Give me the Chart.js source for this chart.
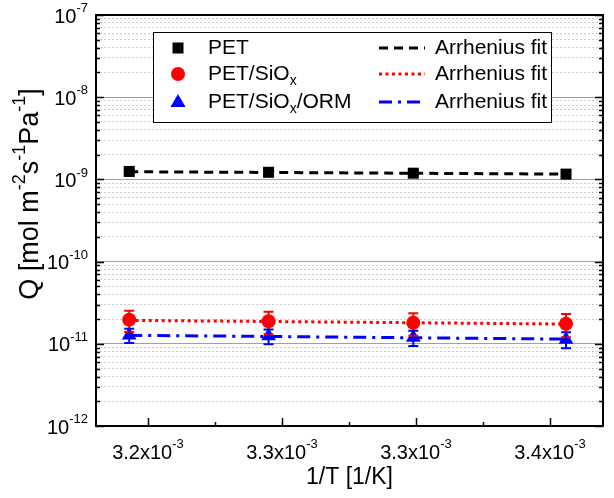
<!DOCTYPE html>
<html>
<head>
<meta charset="utf-8">
<script src="https://cdn.jsdelivr.net/npm/chart.js@4/dist/chart.umd.min.js"></script>
<style>
html,body{margin:0;padding:0;background:#fff;}
#wrap{width:614px;height:498px;position:relative;}
</style>
</head>
<body>
<div id="wrap"><canvas id="c" width="614" height="498"></canvas></div>
<script>
// ---- data ----
const invT = [3.193e-3, 3.245e-3, 3.299e-3, 3.356e-3];
const qPET = [1.25e-9, 1.22e-9, 1.19e-9, 1.16e-9];
const errPET = [0.05e-9, 0.07e-9, 0.07e-9, 0.05e-9];
const qSiOx = [1.96e-11, 1.88e-11, 1.80e-11, 1.75e-11];
const errSiOx = [0.57e-11, 0.57e-11, 0.55e-11, 0.55e-11];
const qORM = [1.27e-11, 1.24e-11, 1.19e-11, 1.13e-11];
const errORM = [0.25e-11, 0.25e-11, 0.25e-11, 0.25e-11];
const fitX = [3.193e-3, 3.356e-3];
const fitPET = [1.24e-9, 1.16e-9];
const fitSiOx = [1.93e-11, 1.74e-11];
const fitORM = [1.27e-11, 1.14e-11];
// ticks
const xTickValues = [3.20e-3, 3.25e-3, 3.30e-3, 3.35e-3];
const xTickMantissa = ['3.2', '3.3', '3.3', '3.4'];
const xTickExp = '-3';
const xMinorValues = [3.225e-3, 3.275e-3, 3.325e-3];
const yDecadeExps = [-12, -11, -10, -9, -8, -7];
const seriesNames = ['PET', 'PET/SiO', 'PET/SiO'];
const fitName = 'Arrhenius fit';

const FONT = '"Liberation Sans", Arial, sans-serif';
const BLACK = '#000000', RED = '#ff0000', BLUE = '#0000ff';

function pts(xs, ys){ return xs.map((x,i)=>({x:x, y:ys[i]})); }

function drawRich(ctx, parts, x, y, size, align, supScale){
  const small = Math.round(size*(supScale||0.65));
  let total = 0;
  const w = parts.map(p=>{ctx.font = (p[1]===0?size:small)+'px '+FONT; const m = ctx.measureText(p[0]).width; total += m; return m;});
  let cx = align==='right' ? x - total : (align==='center' ? x - total/2 : x);
  ctx.textBaseline = 'middle';
  ctx.textAlign = 'left';
  parts.forEach((p,i)=>{
    ctx.font = (p[1]===0?size:small)+'px '+FONT;
    let dy = 0;
    if (p[1]===1) dy = -size*0.42;
    if (p[1]===-1) dy = size*0.32;
    ctx.fillText(p[0], cx, y+dy);
    cx += w[i];
  });
  return total;
}

const errorSets = [
  {ys: qPET, err: errPET, color: BLACK},
  {ys: qSiOx, err: errSiOx, color: RED},
  {ys: qORM, err: errORM, color: BLUE}
];

const decorPlugin = {
  id: 'decor',
  afterDatasetsDraw(chart){
    const ctx = chart.ctx, xs = chart.scales.x, ys = chart.scales.y;
    ctx.save();
    errorSets.forEach(s=>{
      ctx.strokeStyle = s.color; ctx.lineWidth = 2;
      invT.forEach((xv,i)=>{
        const px = xs.getPixelForValue(xv);
        const top = ys.getPixelForValue(s.ys[i]+s.err[i]);
        const bot = ys.getPixelForValue(s.ys[i]-s.err[i]);
        ctx.beginPath();
        ctx.moveTo(px, top); ctx.lineTo(px, bot);
        ctx.moveTo(px-5, top); ctx.lineTo(px+5, top);
        ctx.moveTo(px-5, bot); ctx.lineTo(px+5, bot);
        ctx.stroke();
      });
    });
    ctx.restore();
  },
  afterDraw(chart){
    const ctx = chart.ctx, xs = chart.scales.x, ys = chart.scales.y, a = chart.chartArea;
    ctx.save();
    ctx.fillStyle = '#000'; ctx.strokeStyle = '#000';
    ctx.lineWidth = 1.5;
    ys.ticks.forEach(t=>{
      const py = Math.round(ys.getPixelForValue(t.value)) + 0.5;
      const len = t.major ? 8 : 4;
      ctx.beginPath();
      ctx.moveTo(a.left, py); ctx.lineTo(a.left+len, py);
      ctx.moveTo(a.right, py); ctx.lineTo(a.right-len, py);
      ctx.stroke();
    });
    xTickValues.forEach(v=>{
      const px = Math.round(xs.getPixelForValue(v))+0.5;
      ctx.beginPath(); ctx.moveTo(px, a.bottom); ctx.lineTo(px, a.bottom-8); ctx.stroke();
    });
    xMinorValues.forEach(v=>{
      const px = Math.round(xs.getPixelForValue(v))+0.5;
      ctx.beginPath(); ctx.moveTo(px, a.bottom); ctx.lineTo(px, a.bottom-4); ctx.stroke();
    });
    ctx.lineWidth = 2;
    ctx.strokeRect(a.left, a.top, a.right-a.left, a.bottom-a.top);
    yDecadeExps.forEach(e=>{
      const py = ys.getPixelForValue(Math.pow(10, e));
      drawRich(ctx, [['10',0],[String(e),1]], a.left-8, py+2, 20, 'right');
    });
    xTickValues.forEach((v,i)=>{
      const px = xs.getPixelForValue(v);
      drawRich(ctx, [[xTickMantissa[i]+'x10',0],[xTickExp,1]], px, a.bottom+27, 20, 'center');
    });
    drawRich(ctx, [['1/T [1/K]',0]], (a.left+a.right)/2, 478, 23, 'center');
    ctx.save();
    ctx.translate(31, 194);
    ctx.rotate(-Math.PI/2);
    drawRich(ctx, [['Q [mol m',0],['-2',1],['s',0],['-1',1],['Pa',0],['-1',1],[']',0]], 0, 0, 27, 'center', 0.68);
    ctx.restore();
    // legend
    ctx.fillStyle = '#fff';
    ctx.fillRect(153, 32, 398, 90);
    ctx.lineWidth = 1;
    ctx.strokeStyle = '#000';
    ctx.strokeRect(153.5, 32.5, 398, 90);
    const rows = [48, 74, 102];
    ctx.fillStyle = BLACK; ctx.fillRect(178-5.5, rows[0]-5.5, 11, 11);
    ctx.fillStyle = RED; ctx.beginPath(); ctx.arc(178, rows[1], 7, 0, Math.PI*2); ctx.fill();
    ctx.fillStyle = BLUE; ctx.beginPath(); ctx.moveTo(178, rows[2]-8); ctx.lineTo(185.5, rows[2]+5); ctx.lineTo(170.5, rows[2]+5); ctx.closePath(); ctx.fill();
    ctx.fillStyle = '#000';
    drawRich(ctx, [[seriesNames[0],0]], 208, rows[0], 21, 'left');
    drawRich(ctx, [[seriesNames[1],0],['x',-1]], 208, rows[1], 21, 'left');
    drawRich(ctx, [[seriesNames[2],0],['x',-1],['/ORM',0]], 208, rows[2], 21, 'left');
    const samples = [[BLACK,[9,6]],[RED,[3,3.5]],[BLUE,[13,6,3,6]]];
    samples.forEach((s,i)=>{
      ctx.strokeStyle = s[0]; ctx.lineWidth = 3; ctx.setLineDash(s[1]);
      ctx.beginPath(); ctx.moveTo(379, rows[i]); ctx.lineTo(425, rows[i]); ctx.stroke();
    });
    ctx.setLineDash([]);
    ctx.fillStyle = '#000';
    rows.forEach(r=>drawRich(ctx, [[fitName,0]], 435, r, 21, 'left'));
    ctx.restore();
  }
};

new Chart(document.getElementById('c'), {
  type: 'scatter',
  data: {
    datasets: [
      {label: 'PET fit', data: pts(fitX, fitPET), showLine: true, borderColor: BLACK, borderWidth: 3, borderDash: [9,6], pointRadius: 0, order: 5},
      {label: 'PET/SiOx fit', data: pts(fitX, fitSiOx), showLine: true, borderColor: RED, borderWidth: 3, borderDash: [3,3.5], pointRadius: 0, order: 5},
      {label: 'PET/SiOx/ORM fit', data: pts(fitX, fitORM), showLine: true, borderColor: BLUE, borderWidth: 3, borderDash: [13,6,3,6], pointRadius: 0, order: 5},
      {label: 'PET', data: pts(invT, qPET), pointStyle: 'rect', pointRadius: 7.8, backgroundColor: BLACK, borderColor: BLACK, borderWidth: 0, order: 1},
      {label: 'PET/SiOx', data: pts(invT, qSiOx), pointStyle: 'circle', pointRadius: 7, backgroundColor: RED, borderColor: RED, borderWidth: 0, order: 1},
      {label: 'PET/SiOx/ORM', data: pts(invT, qORM), pointStyle: 'triangle', pointRadius: 8.5, backgroundColor: BLUE, borderColor: BLUE, borderWidth: 0, order: 1}
    ]
  },
  options: {
    responsive: false,
    animation: false,
    layout: {padding: {left: 96, right: 11, top: 15, bottom: 72}},
    plugins: {legend: {display: false}, tooltip: {enabled: false}},
    scales: {
      x: {
        type: 'linear', min: 3.1806e-3, max: 3.3698e-3,
        afterBuildTicks: (s)=>{ s.ticks = xTickValues.map(v=>({value: v})); },
        ticks: {display: false},
        grid: {display: false, drawTicks: false},
        border: {display: false}
      },
      y: {
        type: 'logarithmic', min: 1e-12, max: 1e-7,
        afterBuildTicks: (s)=>{
          const t = [];
          yDecadeExps.forEach(e=>{
            for (let m=1; m<=9; m++){
              if (e===-7 && m>1) break;
              t.push({value: parseFloat(m+'e'+e), major: m===1});
            }
          });
          s.ticks = t;
        },
        ticks: {display: false, autoSkip: false},
        grid: {
          drawTicks: false,
          color: (c)=> (c.tick && c.tick.major) ? '#a0a0a0' : '#cccccc',
          lineWidth: 1
        },
        border: {display: false, dash: (c)=> (c.tick && c.tick.major) ? [] : [2,2]}
      }
    }
  },
  plugins: [decorPlugin]
});
</script>
</body>
</html>
